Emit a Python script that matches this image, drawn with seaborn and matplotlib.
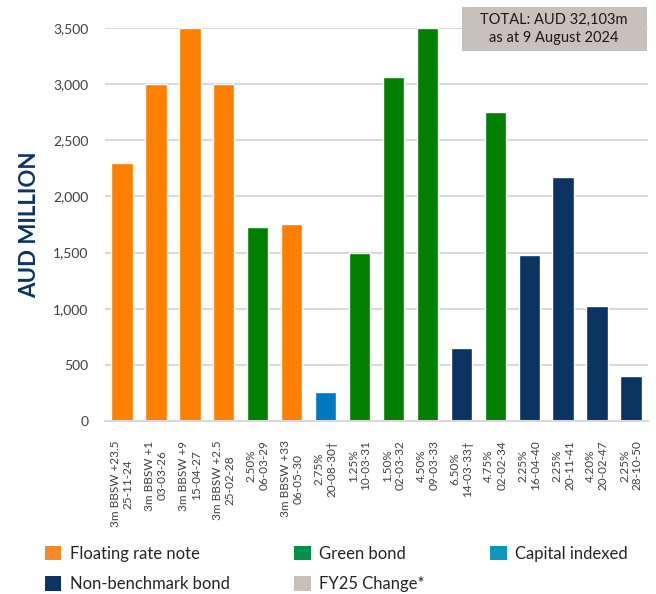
import matplotlib
matplotlib.use("Agg")
import matplotlib.pyplot as plt
from matplotlib.patches import Patch, Rectangle
import seaborn as sns
import pandas as pd

# bond lines on issue, AUD million
labels = ['3m BBSW +23.5\n25-11-24', '3m BBSW +1\n03-03-26', '3m BBSW +9\n15-04-27',
          '3m BBSW +2.5\n25-02-28', '2.50%\n06-03-29', '3m BBSW +33\n06-05-30',
          '2.75%\n20-08-30\u2020', '1.25%\n10-03-31', '1.50%\n02-03-32', '4.50%\n09-03-33',
          '6.50%\n14-03-33\u2020', '4.75%\n02-02-34', '2.25%\n16-04-40', '2.25%\n20-11-41',
          '4.20%\n20-02-47', '2.25%\n28-10-50']
values = [2300, 3000, 3500, 3000, 1725, 1750, 255, 1500, 3060, 3500,
          650, 2750, 1475, 2175, 1020, 400]
kinds = ['Floating rate note'] * 4 + ['Green bond', 'Floating rate note', 'Capital indexed',
         'Green bond', 'Green bond', 'Green bond', 'Non-benchmark bond', 'Green bond',
         'Non-benchmark bond', 'Non-benchmark bond', 'Non-benchmark bond', 'Non-benchmark bond']

bar_colors = {'Floating rate note': '#FF8000', 'Green bond': '#007F00',
              'Capital indexed': '#0079C1', 'Non-benchmark bond': '#0B3463'}
legend_items = [('Floating rate note', '#F6892A'), ('Non-benchmark bond', '#0B3463'),
                ('Green bond', '#00914A'), ('FY25 Change*', '#C8C0BC'),
                ('Capital indexed', '#0E97BD')]
total_text = 'TOTAL: AUD 32,103m\nas at 9 August 2024'

df = pd.DataFrame({'label': labels, 'value': values, 'kind': kinds})

sns.set_style('white')
plt.rcParams['font.family'] = ['Lato', 'DejaVu Sans']

fig = plt.figure(figsize=(6.56, 5.94), dpi=100)
ax = fig.add_axes([105 / 656, 1 - 421 / 594, 543 / 656, 393 / 594])

sns.barplot(data=df, x='label', y='value', hue='kind', palette=bar_colors,
            dodge=False, width=0.63, legend=False, ax=ax, saturation=1)

ax.set_ylim(0, 3500)
ax.set_xlim(-0.5, len(labels) - 0.5)
ax.set_yticks(range(0, 3501, 500))
ax.set_yticklabels([f'{v:,}' for v in range(0, 3501, 500)], fontsize=10, color='#404040')
ax.yaxis.grid(True, color='#d9d9d9', linewidth=1.5)
ax.set_axisbelow(True)
for s in ['top', 'right', 'left']:
    ax.spines[s].set_visible(False)
ax.spines['bottom'].set_color('#d9d9d9')
ax.spines['bottom'].set_linewidth(1.5)
ax.tick_params(axis='y', length=0, pad=12)
ax.tick_params(axis='x', length=0, pad=14)
ax.set_xticks(range(len(labels)))
ax.set_xticklabels(labels, rotation=90, fontsize=8.5, color='#404040',
                   ha='center', va='top', multialignment='center')
ax.set_xlabel('')
ax.set_ylabel('AUD MILLION', fontsize=16, fontweight='bold', color='#0B3463', labelpad=9)

# total box
fig.patches.append(Rectangle((462 / 656, 1 - 51 / 594), 185 / 656, 44 / 594,
                             transform=fig.transFigure, facecolor='#C8C0BC',
                             edgecolor='none', zorder=5))
fig.text(554 / 656, 1 - 29 / 594, total_text, ha='center', va='center',
         fontsize=10.5, color='#1a1a1a', linespacing=1.3, zorder=6)

handles = [Patch(facecolor=c, edgecolor='none', label=n) for n, c in legend_items]
fig.legend(handles=handles, ncol=3, loc='lower left', bbox_to_anchor=(0.045, -0.022),
           frameon=False, fontsize=12, handlelength=1.0, handleheight=1.0,
           columnspacing=3.9, labelspacing=0.85, handletextpad=0.5,
           labelcolor='#262626')

fig.savefig('out.png', dpi=100)
